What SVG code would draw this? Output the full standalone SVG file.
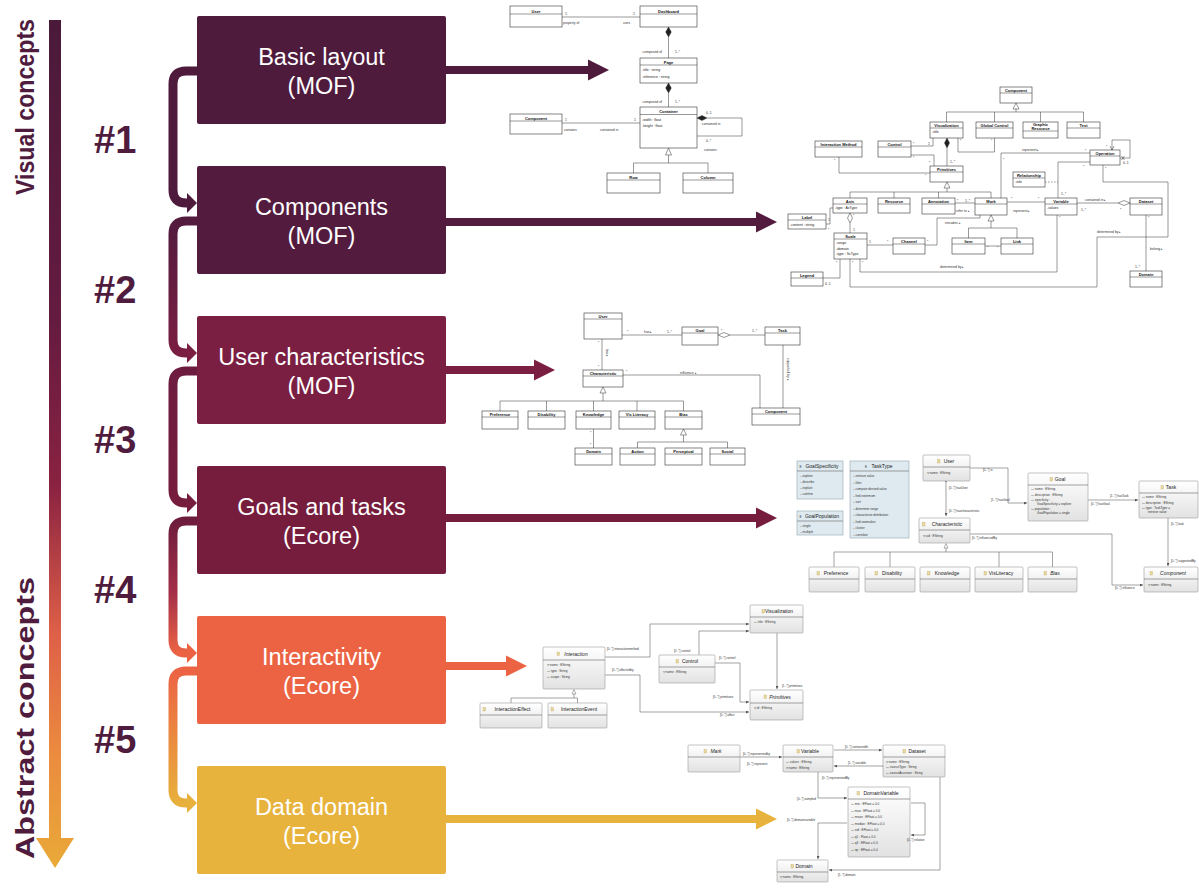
<svg xmlns="http://www.w3.org/2000/svg" width="1199" height="890" viewBox="0 0 1199 890">
<defs>
<linearGradient id="axis" gradientUnits="userSpaceOnUse" x1="0" y1="18" x2="0" y2="870">
<stop offset="0" stop-color="#4a1a3a"/><stop offset="0.35" stop-color="#641b40"/><stop offset="0.55" stop-color="#8a2241"/><stop offset="0.72" stop-color="#de5f48"/><stop offset="0.86" stop-color="#eb8a3f"/><stop offset="1" stop-color="#e9aa38"/>
</linearGradient>
<linearGradient id="c2" gradientUnits="userSpaceOnUse" x1="0" y1="221" x2="0" y2="353"><stop offset="0" stop-color="#531b3e"/><stop offset="1" stop-color="#7a1e42"/></linearGradient>
<linearGradient id="c3" gradientUnits="userSpaceOnUse" x1="0" y1="371" x2="0" y2="503"><stop offset="0" stop-color="#6d1c3f"/><stop offset="1" stop-color="#761c3c"/></linearGradient>
<linearGradient id="c4" gradientUnits="userSpaceOnUse" x1="0" y1="521" x2="0" y2="653"><stop offset="0" stop-color="#6e1c3d"/><stop offset="0.55" stop-color="#a53048"/><stop offset="1" stop-color="#ec6344"/></linearGradient>
<linearGradient id="c5" gradientUnits="userSpaceOnUse" x1="0" y1="671" x2="0" y2="803"><stop offset="0" stop-color="#ec6344"/><stop offset="1" stop-color="#e8b03c"/></linearGradient>
<linearGradient id="eg" x1="0" y1="0" x2="0" y2="1"><stop offset="0" stop-color="#ffffff"/><stop offset="1" stop-color="#e2e2e2"/></linearGradient>
<marker id="ah" viewBox="0 0 6 6" refX="6" refY="3" markerWidth="3" markerHeight="3" markerUnits="userSpaceOnUse" orient="auto"><path d="M0,0 L6,3 L0,6 z" fill="#555"/></marker>
<marker id="ad" viewBox="0 0 8 6" refX="8" refY="3" markerWidth="4" markerHeight="3" markerUnits="userSpaceOnUse" orient="auto"><path d="M0,3 L4,0 L8,3 L4,6 z" fill="#444"/></marker>
<style>
.bx{font-family:"Liberation Sans",Arial,sans-serif;font-size:23.5px;fill:#fff;text-anchor:middle}
.num{font-family:"Liberation Sans",Arial,sans-serif;font-size:38px;font-weight:bold;fill:#4f1c3e}
.side{font-family:"Liberation Sans",Arial,sans-serif;font-size:25px;font-weight:bold;fill:#4f1c3e}
.ub{fill:#fff;stroke:#333;stroke-width:0.6}
.ul{stroke:#333;stroke-width:0.5;fill:none}
.dash{stroke-dasharray:1.5 1.5}
.fd{fill:#222;stroke:#222;stroke-width:0.4}
.hd{fill:#fff;stroke:#333;stroke-width:0.5}
.un{font-family:"Liberation Sans",Arial,sans-serif;font-size:4px;font-weight:bold;text-anchor:middle;fill:#111}
.ua{font-family:"Liberation Sans",Arial,sans-serif;font-size:3.5px;fill:#222}
.um{font-family:"Liberation Sans",Arial,sans-serif;font-size:3.4px;fill:#333}
.eb{fill:url(#eg);stroke:#9a9a9a;stroke-width:0.6}
.en{fill:#dfeaf0;stroke:#8fa4ad;stroke-width:0.6}
.et{font-family:"Liberation Sans",Arial,sans-serif;font-size:5px;text-anchor:middle;fill:#222}
.it{font-style:italic}
.ea{font-family:"Liberation Sans",Arial,sans-serif;font-size:3.1px;fill:#333}
.el{stroke:#666;stroke-width:0.6;fill:none}
.ic{fill:#eadba0;stroke:#b49a52;stroke-width:0.3}
</style>
</defs>

<g id="axis-arrow">
<rect x="49" y="20" width="12" height="820" fill="url(#axis)"/>
<polygon points="36,838 74,838 55,868" fill="url(#axis)"/>
<text class="side" transform="translate(34,107) rotate(-90)" text-anchor="middle" textLength="176" lengthAdjust="spacingAndGlyphs">Visual concepts</text>
<text class="side" transform="translate(34,718) rotate(-90)" text-anchor="middle" textLength="282" lengthAdjust="spacingAndGlyphs">Abstract concepts</text>
</g>

<g id="step-labels">
<text class="num" x="94" y="153">#1</text>
<text class="num" x="94" y="303">#2</text>
<text class="num" x="94" y="453">#3</text>
<text class="num" x="94" y="603">#4</text>
<text class="num" x="94" y="753">#5</text>
</g>

<g id="connectors">
<g stroke-width="9" fill="none">
<path d="M197,71 H186 Q173,71 173,84 V190 Q173,203 186,203 H190" stroke="#4f1b3d"/>
<path d="M197,221 H186 Q173,221 173,234 V340 Q173,353 186,353 H190" stroke="url(#c2)"/>
<path d="M197,371 H186 Q173,371 173,384 V490 Q173,503 186,503 H190" stroke="url(#c3)"/>
<path d="M197,521 H186 Q173,521 173,534 V640 Q173,653 186,653 H190" stroke="url(#c4)"/>
<path d="M197,671 H186 Q173,671 173,684 V790 Q173,803 186,803 H190" stroke="url(#c5)"/>
</g>
<polygon points="187,193 197,203 187,213" fill="#4f1b3d"/>
<polygon points="187,343 197,353 187,363" fill="#7a1e42"/>
<polygon points="187,493 197,503 187,513" fill="#761c3c"/>
<polygon points="187,643 197,653 187,663" fill="#ec6344"/>
<polygon points="187,793 197,803 187,813" fill="#e8b03c"/>
<g stroke-width="8">
<line x1="445" y1="70" x2="590" y2="70" stroke="#4f1b3d"/>
<line x1="445" y1="222" x2="758" y2="222" stroke="#531b3e"/>
<line x1="445" y1="370" x2="536" y2="370" stroke="#7a1e42"/>
<line x1="445" y1="518" x2="758" y2="518" stroke="#761c3c"/>
<line x1="445" y1="666" x2="508" y2="666" stroke="#ec6344"/>
<line x1="445" y1="819" x2="758" y2="819" stroke="#e7b33d"/>
</g>
<polygon points="588,59.5 609,70 588,80.5" fill="#4f1b3d"/>
<polygon points="756,211.5 777,222 756,232.5" fill="#531b3e"/>
<polygon points="534,359.5 555,370 534,380.5" fill="#7a1e42"/>
<polygon points="756,507.5 777,518 756,528.5" fill="#761c3c"/>
<polygon points="506,655.5 527,666 506,676.5" fill="#ec6344"/>
<polygon points="756,808.5 777,819 756,829.5" fill="#e7b33d"/>
</g>

<g id="box-basic-layout"><rect x="197" y="16" width="249" height="108" rx="2" fill="#4f1b3d"/><text class="bx" x="321.5" y="65">Basic layout</text><text class="bx" x="321.5" y="94">(MOF)</text></g>
<g id="box-components"><rect x="197" y="166" width="249" height="108" rx="2" fill="#531b3e"/><text class="bx" x="321.5" y="215">Components</text><text class="bx" x="321.5" y="244">(MOF)</text></g>
<g id="box-user-characteristics"><rect x="197" y="316" width="249" height="108" rx="2" fill="#7a1e42"/><text class="bx" x="321.5" y="365">User characteristics</text><text class="bx" x="321.5" y="394">(MOF)</text></g>
<g id="box-goals-tasks"><rect x="197" y="466" width="249" height="108" rx="2" fill="#761c3c"/><text class="bx" x="321.5" y="515">Goals and tasks</text><text class="bx" x="321.5" y="544">(Ecore)</text></g>
<g id="box-interactivity"><rect x="197" y="616" width="249" height="108" rx="2" fill="#ec6344"/><text class="bx" x="321.5" y="665">Interactivity</text><text class="bx" x="321.5" y="694">(Ecore)</text></g>
<g id="box-data-domain"><rect x="197" y="766" width="249" height="108" rx="2" fill="#e7b33d"/><text class="bx" x="321.5" y="815">Data domain</text><text class="bx" x="321.5" y="844">(Ecore)</text></g>

<!-- UML 1: Basic layout -->
<g id="uml-basic-layout">
<rect class="ub" x="510" y="6" width="52" height="21"/><line class="ul" x1="510" y1="14" x2="562" y2="14"/><text class="un" x="536" y="12.5">User</text>
<rect class="ub" x="640" y="6" width="57" height="21"/><line class="ul" x1="640" y1="14" x2="697" y2="14"/><text class="un" x="668.5" y="12.5">Dashboard</text>
<line class="ul" x1="562" y1="17" x2="640" y2="17"/>
<text class="um" x="565" y="15">1</text><text class="um" x="563" y="24">property of</text><text class="um" x="633" y="15">1</text><text class="um" x="623" y="24">uses</text>
<polygon class="fd" points="668.5,27 671.3,32 668.5,37 665.7,32"/><line class="ul" x1="668.5" y1="37" x2="668.5" y2="58"/>
<text class="um" x="662" y="53" text-anchor="end">composed of</text><text class="um" x="675" y="53">1..*</text>
<rect class="ub" x="640" y="58" width="57" height="25"/><line class="ul" x1="640" y1="65" x2="697" y2="65"/><text class="un" x="668.5" y="63.5">Page</text>
<text class="ua" x="642" y="71">-title : string</text><text class="ua" x="642" y="77.5">-reference : string</text>
<polygon class="fd" points="668.5,83 671.3,88 668.5,93 665.7,88"/><line class="ul" x1="668.5" y1="93" x2="668.5" y2="107"/>
<text class="um" x="662" y="103" text-anchor="end">composed of</text><text class="um" x="675" y="103">1..*</text>
<rect class="ub" x="640" y="107" width="57" height="41"/><line class="ul" x1="640" y1="114.5" x2="697" y2="114.5"/><text class="un" x="668.5" y="113">Container</text>
<text class="ua" x="642" y="120.5">-width : float</text><text class="ua" x="642" y="126.5">-height : float</text>
<rect class="ub" x="510" y="114" width="52" height="20"/><line class="ul" x1="510" y1="121" x2="562" y2="121"/><text class="un" x="536" y="119.5">Component</text>
<line class="ul" x1="562" y1="123" x2="640" y2="123"/>
<text class="um" x="565" y="121">1</text><text class="um" x="564" y="131">contains</text><text class="um" x="634" y="121">1</text><text class="um" x="600" y="131">contained in</text>
<polygon class="fd" points="697,118 702,115.5 707,118 702,120.5"/><path class="ul" d="M707,118 H742 V136 H697"/>
<text class="um" x="706" y="114">0..1</text><text class="um" x="702" y="125">contained in</text><text class="um" x="706" y="142">0..*</text><text class="um" x="704" y="151">contains</text>
<polygon class="hd" points="668.5,148 665.5,155 671.5,155"/><path class="ul" d="M668.5,155 V163 M633.5,173 V163 H708 V173"/>
<rect class="ub" x="607" y="173" width="53" height="20"/><line class="ul" x1="607" y1="180" x2="660" y2="180"/><text class="un" x="633.5" y="178.5">Row</text>
<rect class="ub" x="683" y="173" width="50" height="20"/><line class="ul" x1="683" y1="180" x2="733" y2="180"/><text class="un" x="708" y="178.5">Column</text>
</g>

<!-- UML 2: Components -->
<g id="uml-components">
<g class="ul">
<path d="M1016,109 V112 M946.5,122 V112 H1083.5 V122 M994.5,112 V122 M1040.5,112 V122"/>
<path d="M947,148 V166"/>
<path d="M911,146 H933 V138"/>
<path d="M911,155 H934 V166"/>
<path d="M839,157 V173 H930"/>
<path d="M958,138 V152 H994.5 V138"/>
<path d="M947,188 V192 M850,198 V192 H991 V198 M894,192 V198 M938.5,192 V198"/>
<path d="M1001,198 V153 H1090"/>
<path d="M1112,150 V140 H1130 V158 H1120"/>
<path d="M1110,146 L1112,150 L1114,146"/>
<path d="M1121.5,156 L1124.5,160 M1124.5,156 L1121.5,160"/>
<path d="M1090,162 H1058 V198"/>
<path d="M1103,165 V182 H1168 V237 H1097 V287 H850 V259"/>
<path d="M826,224 H830 V208 H833"/>
<path d="M850,223 V233"/>
<path d="M867,245 H893"/>
<path d="M925,245 H937 V218 H980 V215"/>
<path d="M955,203 H975"/>
<path d="M1007,202 H1045"/>
<path d="M1077,203 H1118"/>
<path d="M991,221 V228 M968.5,238 V228 H1017 V238"/>
<path d="M985,246 H1001"/>
<path d="M840,259 V278 H823"/>
<path d="M860,259 V272 H1057 V215"/>
<path d="M1146,215 V271"/>
</g>
<path class="ul dash" d="M1045,182 H1058"/>
<polygon class="hd" points="1016,103 1013,109 1019,109"/>
<polygon class="fd" points="947,138 949.5,143 947,148 944.5,143"/>
<polygon class="hd" points="947,182 944,188 950,188"/>
<polygon class="hd" points="850,213 852.5,218 850,223 847.5,218"/>
<polygon class="hd" points="1118,203 1124,200.5 1130,203 1124,205.5"/>
<polygon class="hd" points="991,215 988,221 994,221"/>
<rect class="ub" x="1000" y="87" width="32" height="16"/><line class="ul" x1="1000" y1="93" x2="1032" y2="93"/><text class="un" x="1016" y="92">Component</text>
<rect class="ub" x="930" y="122" width="33" height="16"/><line class="ul" x1="930" y1="128" x2="963" y2="128"/><text class="un" x="946.5" y="126.8">Visualization</text><text class="ua" x="932" y="133">-title</text>
<rect class="ub" x="976" y="122" width="37" height="16"/><line class="ul" x1="976" y1="128" x2="1013" y2="128"/><text class="un" x="994.5" y="126.8">Global Control</text>
<rect class="ub" x="1023" y="122" width="35" height="16"/><line class="ul" x1="1023" y1="131" x2="1058" y2="131"/><text class="un" x="1040.5" y="126">Graphic</text><text class="un" x="1040.5" y="130.3">Resource</text>
<rect class="ub" x="1067" y="122" width="33" height="16"/><line class="ul" x1="1067" y1="128" x2="1100" y2="128"/><text class="un" x="1083.5" y="126.8">Text</text>
<rect class="ub" x="815" y="141" width="47" height="16"/><line class="ul" x1="815" y1="147" x2="862" y2="147"/><text class="un" x="838.5" y="145.8">Interaction Method</text>
<rect class="ub" x="878" y="141" width="33" height="16"/><line class="ul" x1="878" y1="147" x2="911" y2="147"/><text class="un" x="894.5" y="145.8">Control</text>
<rect class="ub" x="930" y="166" width="33" height="16"/><line class="ul" x1="930" y1="172" x2="963" y2="172"/><text class="un" x="946.5" y="170.8">Primitives</text>
<rect class="ub" x="1090" y="150" width="30" height="15"/><line class="ul" x1="1090" y1="156" x2="1120" y2="156"/><text class="un" x="1105" y="154.8">Operation</text>
<rect class="ub" x="1013" y="172" width="32" height="15"/><line class="ul" x1="1013" y1="178" x2="1045" y2="178"/><text class="un" x="1029" y="176.8">Relationship</text><text class="ua" x="1015" y="183">-role</text>
<rect class="ub" x="833" y="198" width="34" height="15"/><line class="ul" x1="833" y1="204" x2="867" y2="204"/><text class="un" x="850" y="202.8">Axis</text><text class="ua" x="835" y="209">-type : AxType</text>
<rect class="ub" x="878" y="198" width="32" height="15"/><line class="ul" x1="878" y1="204" x2="910" y2="204"/><text class="un" x="894" y="202.8">Resource</text>
<rect class="ub" x="922" y="198" width="33" height="16"/><line class="ul" x1="922" y1="204" x2="955" y2="204"/><text class="un" x="938.5" y="202.8">Annotation</text>
<rect class="ub" x="975" y="198" width="32" height="17"/><line class="ul" x1="975" y1="204" x2="1007" y2="204"/><text class="un" x="991" y="202.8">Mark</text>
<rect class="ub" x="1045" y="198" width="32" height="17"/><line class="ul" x1="1045" y1="204" x2="1077" y2="204"/><text class="un" x="1061" y="202.8">Variable</text><text class="ua" x="1047" y="209">-values</text>
<rect class="ub" x="1130" y="198" width="32" height="17"/><line class="ul" x1="1130" y1="204" x2="1162" y2="204"/><text class="un" x="1146" y="202.8">Dataset</text>
<rect class="ub" x="788" y="214" width="38" height="15"/><line class="ul" x1="788" y1="220" x2="826" y2="220"/><text class="un" x="807" y="218.8">Label</text><text class="ua" x="790" y="225.5">-content : string</text>
<rect class="ub" x="834" y="233" width="33" height="26"/><line class="ul" x1="834" y1="239" x2="867" y2="239"/><text class="un" x="850.5" y="237.8">Scale</text><text class="ua" x="836" y="244">-range</text><text class="ua" x="836" y="249.5">-domain</text><text class="ua" x="836" y="255">-type : ScType</text>
<rect class="ub" x="893" y="238" width="32" height="16"/><line class="ul" x1="893" y1="244" x2="925" y2="244"/><text class="un" x="909" y="242.8">Channel</text>
<rect class="ub" x="952" y="238" width="33" height="16"/><line class="ul" x1="952" y1="244" x2="985" y2="244"/><text class="un" x="968.5" y="242.8">Item</text>
<rect class="ub" x="1001" y="238" width="32" height="16"/><line class="ul" x1="1001" y1="244" x2="1033" y2="244"/><text class="un" x="1017" y="242.8">Link</text>
<rect class="ub" x="791" y="272" width="32" height="14"/><line class="ul" x1="791" y1="278" x2="823" y2="278"/><text class="un" x="807" y="276.8">Legend</text>
<rect class="ub" x="1130" y="271" width="32" height="16"/><line class="ul" x1="1130" y1="277" x2="1162" y2="277"/><text class="un" x="1146" y="275.8">Domain</text>
<g class="um">
<text x="913" y="145">*</text><text x="928" y="145">1</text><text x="913" y="159">*</text><text x="929" y="164">*</text>
<text x="834" y="162">*</text><text x="925" y="177">*</text><text x="960" y="142">*</text><text x="991" y="142">*</text><text x="950" y="163">1..*</text>
<text x="1022" y="151">represent ▸</text><text x="1003" y="161">*</text><text x="1085" y="152">*</text>
<text x="1106" y="148">*</text><text x="1123" y="164">0..1</text><text x="1083" y="168">*</text><text x="1061" y="195">1..*</text><text x="1105" y="170">*</text>
<text x="828" y="221">1</text><text x="828" y="231">*</text><text x="853" y="217">*</text><text x="853" y="231">1</text>
<text x="869" y="243">1</text><text x="887" y="243">*</text><text x="927" y="243">*</text><text x="945" y="224">encodes ▸</text>
<text x="957" y="202">*</text><text x="965" y="202">1..*</text><text x="956" y="212">refer to ▸</text>
<text x="1011" y="200">*</text><text x="1038" y="200">*</text><text x="1013" y="212">represent ▸</text>
<text x="1085" y="201">contained in ▸</text><text x="1081" y="211">1..*</text><text x="1120" y="211">*</text>
<text x="987" y="249">*</text><text x="997" y="249">*</text>
<text x="836" y="264">*</text><text x="825" y="285">0..1</text><text x="862" y="264">*</text><text x="852" y="264">*</text><text x="1059" y="219">*</text>
<text x="940" y="268">determined by ▸</text><text x="1097" y="233">determined by ▸</text>
<text x="1148" y="219">*</text><text x="1135" y="268">1..*</text><text x="1150" y="250">belong ▸</text>
</g>
</g>

<!-- UML 3: User characteristics -->
<g id="uml-user-characteristics">
<g class="ul">
<path d="M622,335 H682"/>
<path d="M730,335 H765"/>
<path d="M783,345 V408"/>
<path d="M602,339 V370"/>
<path d="M623,375 H760 V408"/>
<path d="M603,393 V401 M500,411 V401 H683.5 V411 M546.5,401 V411 M593.5,401 V411 M637,401 V411"/>
<path d="M593.5,429 V448"/>
<path d="M683.5,435 V442 M637.5,448 V442 H727.5 V448"/>
</g>
<polygon class="hd" points="718,335 724,332.5 730,335 724,337.5"/>
<polygon class="hd" points="603,387 600,393 606,393"/>
<polygon class="hd" points="683.5,429 680.5,435 686.5,435"/>
<rect class="ub" x="584" y="313" width="38" height="26"/><line class="ul" x1="584" y1="319" x2="622" y2="319"/><text class="un" x="603" y="317.8">User</text>
<rect class="ub" x="682" y="327" width="36" height="18"/><line class="ul" x1="682" y1="333" x2="718" y2="333"/><text class="un" x="700" y="331.8">Goal</text>
<rect class="ub" x="765" y="327" width="35" height="18"/><line class="ul" x1="765" y1="333" x2="800" y2="333"/><text class="un" x="782.5" y="331.8">Task</text>
<rect class="ub" x="583" y="370" width="40" height="17"/><line class="ul" x1="583" y1="376" x2="623" y2="376"/><text class="un" x="603" y="374.8">Characteristic</text>
<rect class="ub" x="752" y="408" width="48" height="17"/><line class="ul" x1="752" y1="414" x2="800" y2="414"/><text class="un" x="776" y="412.8">Component</text>
<rect class="ub" x="482" y="411" width="36" height="18"/><line class="ul" x1="482" y1="417" x2="518" y2="417"/><text class="un" x="500" y="415.8">Preference</text>
<rect class="ub" x="528" y="411" width="37" height="18"/><line class="ul" x1="528" y1="417" x2="565" y2="417"/><text class="un" x="546.5" y="415.8">Disability</text>
<rect class="ub" x="576" y="411" width="35" height="18"/><line class="ul" x1="576" y1="417" x2="611" y2="417"/><text class="un" x="593.5" y="415.8">Knowledge</text>
<rect class="ub" x="619" y="411" width="36" height="18"/><line class="ul" x1="619" y1="417" x2="655" y2="417"/><text class="un" x="637" y="415.8">Vis Literacy</text>
<rect class="ub" x="665" y="411" width="37" height="18"/><line class="ul" x1="665" y1="417" x2="702" y2="417"/><text class="un" x="683.5" y="415.8">Bias</text>
<rect class="ub" x="575" y="448" width="37" height="17"/><line class="ul" x1="575" y1="454" x2="612" y2="454"/><text class="un" x="593.5" y="452.8">Domain</text>
<rect class="ub" x="620" y="448" width="35" height="17"/><line class="ul" x1="620" y1="454" x2="655" y2="454"/><text class="un" x="637.5" y="452.8">Action</text>
<rect class="ub" x="665" y="448" width="37" height="17"/><line class="ul" x1="665" y1="454" x2="702" y2="454"/><text class="un" x="683.5" y="452.8">Perceptual</text>
<rect class="ub" x="710" y="448" width="35" height="17"/><line class="ul" x1="710" y1="454" x2="745" y2="454"/><text class="un" x="727.5" y="452.8">Social</text>
<g class="um">
<text x="627" y="333">*</text><text x="644" y="333">has ▸</text><text x="667" y="333">1..*</text>
<text x="721" y="332">*</text><text x="752" y="332">1..*</text>
<text x="598" y="344">*</text><text x="598" y="368">*</text>
<text transform="translate(605.5,349) rotate(90)">has ▸</text>
<text transform="translate(786.5,358) rotate(90)">supported by ▸</text>
<text x="626" y="373">*</text><text x="680" y="374">influence ▸</text>
<text x="590" y="434">*</text><text x="590" y="446">*</text>
</g>
</g>

<!-- UML 4: Goals and tasks (Ecore) -->
<g id="ecore-goals-tasks">
<g class="el">
<path d="M946,483 V516" marker-start="url(#ah)" marker-end="url(#ah)"/>
<path d="M970,468 H1008 V503 H1027" marker-start="url(#ah)" marker-end="url(#ah)"/>
<path d="M1089,500 H1138" marker-start="url(#ah)" marker-end="url(#ah)"/>
<path d="M1168,519 V566" marker-start="url(#ah)" marker-end="url(#ah)"/>
<path d="M971,534 H1112 V585 H1143" marker-start="url(#ah)" marker-end="url(#ah)"/>
<path d="M946,548 V552 M834,567 V552 H1052.5 V567 M890,552 V567 M999,552 V567"/>
</g>
<polygon points="946,543.5 944,548 948,548" fill="#fff" stroke="#666" stroke-width="0.5"/>
<rect class="en" x="797" y="461" width="46" height="38"/><line class="el" x1="797" y1="471" x2="843" y2="471"/><text class="et" x="822" y="468" font-size="4.5">GoalSpecificity</text><text class="ea" x="799.5" y="468">E</text>
<g class="ea"><text x="800" y="477">–  explore</text><text x="800" y="483">–  describe</text><text x="800" y="489">–  explain</text><text x="800" y="495">–  confirm</text></g>
<rect class="en" x="797" y="511" width="46" height="24"/><line class="el" x1="797" y1="521" x2="843" y2="521"/><text class="et" x="822" y="518" font-size="4.5">GoalPopulation</text><text class="ea" x="799.5" y="518">E</text>
<g class="ea"><text x="800" y="527">–  single</text><text x="800" y="533">–  multiple</text></g>
<rect class="en" x="850" y="461" width="59" height="77"/><line class="el" x1="850" y1="471" x2="909" y2="471"/><text class="et" x="882" y="468" font-size="4.5">TaskType</text><text class="ea" x="865" y="468">E</text>
<g class="ea"><text x="853" y="477">–  retrieve value</text><text x="853" y="483.5">–  filter</text><text x="853" y="490">–  compute derived value</text><text x="853" y="496.5">–  find extremum</text><text x="853" y="503">–  sort</text><text x="853" y="509.5">–  determine range</text><text x="853" y="516">–  characterize distribution</text><text x="853" y="522.5">–  find anomalies</text><text x="853" y="529">–  cluster</text><text x="853" y="535.5">–  correlate</text></g>
<rect class="eb" x="923" y="455" width="47" height="26" rx="1"/><line class="el" x1="923" y1="467" x2="970" y2="467"/><rect class="ic" x="937.5" y="459.5" width="2.5" height="3.5"/><text class="et" x="949" y="463">User</text><text class="ea" x="927" y="474">▽  name : EString</text>
<rect class="eb" x="919" y="518" width="51" height="25" rx="1"/><line class="el" x1="919" y1="530" x2="970" y2="530"/><rect class="ic" x="922.5" y="522.5" width="2.5" height="3.5"/><text class="et it" x="947" y="526">Characteristic</text><text class="ea" x="923" y="537">▽  uid : EString</text>
<rect class="eb" x="809" y="567" width="50" height="25" rx="1"/><line class="el" x1="809" y1="579" x2="859" y2="579"/><rect class="ic" x="817" y="571.5" width="2.5" height="3.5"/><text class="et" x="836" y="575">Preference</text>
<rect class="eb" x="865" y="567" width="50" height="25" rx="1"/><line class="el" x1="865" y1="579" x2="915" y2="579"/><rect class="ic" x="875" y="571.5" width="2.5" height="3.5"/><text class="et" x="892" y="575">Disability</text>
<rect class="eb" x="920" y="567" width="50" height="25" rx="1"/><line class="el" x1="920" y1="579" x2="970" y2="579"/><rect class="ic" x="927.5" y="571.5" width="2.5" height="3.5"/><text class="et" x="947" y="575">Knowledge</text>
<rect class="eb" x="975" y="567" width="48" height="25" rx="1"/><line class="el" x1="975" y1="579" x2="1023" y2="579"/><rect class="ic" x="984" y="571.5" width="2.5" height="3.5"/><text class="et" x="1001" y="575">VisLiteracy</text>
<rect class="eb" x="1028" y="567" width="49" height="25" rx="1"/><line class="el" x1="1028" y1="579" x2="1077" y2="579"/><rect class="ic" x="1044" y="571.5" width="2.5" height="3.5"/><text class="et it" x="1055" y="575">Bias</text>
<rect class="eb" x="1028" y="473" width="60" height="48" rx="1"/><line class="el" x1="1028" y1="485" x2="1088" y2="485"/><rect class="ic" x="1050" y="477.5" width="2.5" height="3.5"/><text class="et" x="1060" y="481">Goal</text>
<g class="ea"><text x="1031" y="490">▭  name : EString</text><text x="1031" y="496">▭  description : EString</text><text x="1031" y="501">▭  specificity :</text><text x="1037" y="505">GoalSpecificity = explore</text><text x="1031" y="510">▭  population :</text><text x="1037" y="514">GoalPopulation = single</text></g>
<rect class="eb" x="1139" y="481" width="59" height="37" rx="1"/><line class="el" x1="1139" y1="493" x2="1198" y2="493"/><rect class="ic" x="1161" y="485.5" width="2.5" height="3.5"/><text class="et" x="1171" y="489">Task</text>
<g class="ea"><text x="1142" y="498">▭  name : EString</text><text x="1142" y="504">▭  description : EString</text><text x="1142" y="509">▭  type : TaskType =</text><text x="1148" y="513">retrieve value</text></g>
<rect class="eb" x="1144" y="567" width="54" height="25" rx="1"/><line class="el" x1="1144" y1="579" x2="1198" y2="579"/><rect class="ic" x="1150" y="571.5" width="2.5" height="3.5"/><text class="et it" x="1173" y="575">Component</text><text class="ea" x="1148" y="586">▽  name : EString</text>
<g class="ea">
<text x="983" y="471">[0..*] is</text><text x="991" y="501">[1..*] hasGoal</text>
<text x="949" y="489">[0..*] hasUser</text><text x="949" y="512">[0..*] hascharacteristic</text>
<text x="1110" y="497">[1..*] hasTask</text><text x="1091" y="505">[0..*] hasGoal</text>
<text x="1171" y="525">[0..*] task</text><text x="1171" y="562">[0..*] supportedBy</text>
<text x="972" y="539">[0..*] influencedBy</text><text x="1115" y="589">[0..*] influence</text>
</g>
</g>

<!-- UML 5: Interactivity (Ecore) -->
<g id="ecore-interactivity">
<g class="el">
<path d="M606,657 H650 V624 H749" marker-start="url(#ah)" marker-end="url(#ah)"/>
<path d="M699,654 V631 H749" marker-start="url(#ah)" marker-end="url(#ah)"/>
<path d="M716,663 H740 V702 H749" marker-start="url(#ah)" marker-end="url(#ah)"/>
<path d="M606,675 H640 V712 H749" marker-start="url(#ah)" marker-end="url(#ah)"/>
<path d="M777,634 V689" marker-start="url(#ah)" marker-end="url(#ah)"/>
<path d="M574,694 V698 M511,703 V698 H577.5 V703"/>
</g>
<polygon points="574,689.5 572,694 576,694" fill="#fff" stroke="#666" stroke-width="0.5"/>
<rect class="eb" x="750" y="605" width="53" height="28" rx="1"/><line class="el" x1="750" y1="617" x2="803" y2="617"/><rect class="ic" x="762" y="609.5" width="2.5" height="3.5"/><text class="et" x="779" y="613">Visualization</text><text class="ea" x="754" y="623">▭  title : EString</text>
<rect class="eb" x="543" y="647" width="62" height="42" rx="1"/><line class="el" x1="543" y1="660" x2="605" y2="660"/><rect class="ic" x="557" y="652" width="2.5" height="3.5"/><text class="et it" x="576" y="656">Interaction</text>
<g class="ea"><text x="547" y="666">▽  name : EString</text><text x="547" y="672">▭  type : String</text><text x="547" y="678">▭  scope : String</text></g>
<rect class="eb" x="659" y="655" width="56" height="28" rx="1"/><line class="el" x1="659" y1="667" x2="715" y2="667"/><rect class="ic" x="676" y="659.5" width="2.5" height="3.5"/><text class="et" x="690" y="663">Control</text><text class="ea" x="663" y="673">▽  name : EString</text>
<rect class="eb" x="750" y="690" width="53" height="30" rx="1"/><line class="el" x1="750" y1="703" x2="803" y2="703"/><rect class="ic" x="764" y="695" width="2.5" height="3.5"/><text class="et it" x="780" y="699">Primitives</text><text class="ea" x="754" y="709">▽  id : EString</text>
<rect class="eb" x="480" y="703" width="62" height="25" rx="1"/><line class="el" x1="480" y1="715" x2="542" y2="715"/><rect class="ic" x="483" y="707.5" width="2.5" height="3.5"/><text class="et" x="512.5" y="711" font-size="4.6">InteractionEffect</text>
<rect class="eb" x="548" y="703" width="59" height="25" rx="1"/><line class="el" x1="548" y1="715" x2="607" y2="715"/><rect class="ic" x="551" y="707.5" width="2.5" height="3.5"/><text class="et" x="579" y="711" font-size="4.6">InteractionEvent</text>
<g class="ea">
<text x="607" y="650">[0..*] interactionmethod</text><text x="674" y="652">[0..*] control</text>
<text x="719" y="659">[0..*] control</text><text x="713" y="698">[0..*] primitives</text>
<text x="612" y="671">[0..*] affectedby</text><text x="720" y="716">[0..*] affect</text>
<text x="782" y="687">[1..*] primitives</text>
</g>
</g>

<!-- UML 6: Data domain (Ecore) -->
<g id="ecore-data-domain">
<g class="el">
<path d="M741,757 H782" marker-start="url(#ah)" marker-end="url(#ah)"/>
<path d="M834,750 H882" marker-end="url(#ah)"/>
<path d="M882,766 H834" marker-start="url(#ad)" marker-end="url(#ah)"/>
<path d="M818,773 V798 H847" marker-start="url(#ah)" marker-end="url(#ah)"/>
<path d="M911,803 H925 V835 H911" marker-end="url(#ah)"/>
<path d="M847,823 H818 V859" marker-end="url(#ah)"/>
<path d="M940,778 V870 H829" marker-start="url(#ah)" marker-end="url(#ah)"/>
</g>
<rect class="eb" x="688" y="745" width="52" height="27" rx="1"/><line class="el" x1="688" y1="757" x2="740" y2="757"/><rect class="ic" x="704" y="749.5" width="2.5" height="3.5"/><text class="et it" x="716" y="753">Mark</text>
<rect class="eb" x="783" y="745" width="50" height="27" rx="1"/><line class="el" x1="783" y1="757" x2="833" y2="757"/><rect class="ic" x="797" y="749.5" width="2.5" height="3.5"/><text class="et" x="810" y="753">Variable</text>
<g class="ea"><text x="786" y="762.5">▭  values : EString</text><text x="786" y="768.5">▽  name : EString</text></g>
<rect class="eb" x="883" y="745" width="62" height="32" rx="1"/><line class="el" x1="883" y1="757" x2="945" y2="757"/><rect class="ic" x="903" y="749.5" width="2.5" height="3.5"/><text class="et" x="917" y="753">Dataset</text>
<g class="ea"><text x="886" y="762.5">▽  name : EString</text><text x="886" y="768">▭  sourceType : String</text><text x="886" y="773.5">▭  sourceAccessor : String</text></g>
<rect class="eb" x="848" y="787" width="62" height="70" rx="1"/><line class="el" x1="848" y1="799" x2="910" y2="799"/><rect class="ic" x="857" y="791.5" width="2.5" height="3.5"/><text class="et" x="881" y="795">DomainVariable</text>
<g class="ea"><text x="851" y="805">▭  min : EFloat = 0.0</text><text x="851" y="811.5">▭  max : EFloat = 0.0</text><text x="851" y="818">▭  mean : EFloat = 0.0</text><text x="851" y="824.5">▭  median : EFloat = 0.0</text><text x="851" y="831">▭  std : EFloat = 0.0</text><text x="851" y="837.5">▭  q1 : Float = 0.0</text><text x="851" y="844">▭  q3 : EFloat = 0.0</text><text x="851" y="850.5">▭  iqr : EFloat = 0.0</text></g>
<rect class="eb" x="777" y="860" width="51" height="22" rx="1"/><line class="el" x1="777" y1="872" x2="828" y2="872"/><rect class="ic" x="791" y="864.5" width="2.5" height="3.5"/><text class="et" x="804" y="868">Domain</text><text class="ea" x="780" y="878">▽  name : EString</text>
<g class="ea">
<text x="743" y="755">[0..*] representedby</text><text x="747" y="765">[0..*] represent</text>
<text x="845" y="748">[0..*] containedIn</text><text x="848" y="764">[1..*] variable</text>
<text x="822" y="779">[0..*] representedBy</text><text x="816" y="800" text-anchor="end">[0..*] sampled</text>
<text x="907" y="841">[0..*] relation</text>
<text x="787" y="821">[0..*] domainvariable</text><text x="838" y="876">[1..*] domain</text>
</g>
</g>
</svg>
